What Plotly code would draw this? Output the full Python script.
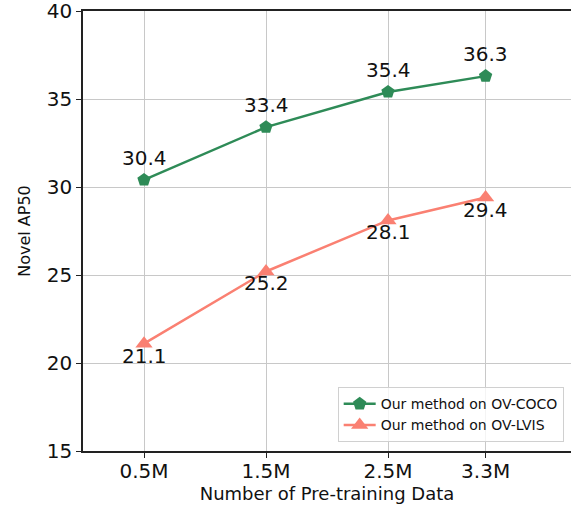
import plotly.graph_objects as go

x_vals = [0.5, 1.5, 2.5, 3.3]
x_labels = ["0.5M", "1.5M", "2.5M", "3.3M"]
coco = [30.4, 33.4, 35.4, 36.3]
lvis = [21.1, 25.2, 28.1, 29.4]
y_ticks = [15, 20, 25, 30, 35, 40]

GREEN = "#2e8b57"
SALMON = "#fa8072"
FONT = "DejaVu Sans"

fig = go.Figure()
fig.add_trace(go.Scatter(
    x=x_vals, y=coco, mode="lines+markers", name="Our method on OV-COCO",
    line=dict(color=GREEN, width=2.5),
    marker=dict(symbol="pentagon", size=14, color=GREEN),
))
fig.add_trace(go.Scatter(
    x=x_vals, y=lvis, mode="lines+markers", name="Our method on OV-LVIS",
    line=dict(color=SALMON, width=2.5),
    marker=dict(symbol="triangle-up", size=15, color=SALMON),
))

for xv, yv in zip(x_vals, coco):
    fig.add_annotation(x=xv, y=yv, text=f"{yv}", showarrow=False, yshift=22,
                       font=dict(family=FONT, size=20, color="#111"))
for xv, yv in zip(x_vals, lvis):
    fig.add_annotation(x=xv, y=yv, text=f"{yv}", showarrow=False, yshift=-12,
                       font=dict(family=FONT, size=20, color="#111"))

fig.update_layout(
    width=571, height=511,
    margin=dict(l=83, r=0, t=11, b=60),
    paper_bgcolor="white", plot_bgcolor="white",
    font=dict(family=FONT, color="#111"),
    showlegend=True,
    legend=dict(
        x=0.985, y=0.02, xanchor="right", yanchor="bottom",
        bgcolor="rgba(255,255,255,0.8)", bordercolor="#d0d0d0", borderwidth=1,
        font=dict(family=FONT, size=14, color="#111"),
        tracegroupgap=0, itemwidth=32,
    ),
    xaxis=dict(
        range=[0, 4.0], tickvals=x_vals, ticktext=x_labels,
        showgrid=True, gridcolor="#c8c8c8", gridwidth=1.2,
        showline=True, linecolor="#222", linewidth=1.5, mirror=True,
        ticks="outside", ticklen=5, tickcolor="#222",
        tickfont=dict(family=FONT, size=20, color="#111"),
        ticklabelstandoff=-4,
        title=dict(text="Number of Pre-training Data", font=dict(family=FONT, size=18, color="#111"), standoff=2),
        zeroline=False, automargin=False, ticklabeloverflow="allow",
    ),
    yaxis=dict(
        range=[15, 40], tickvals=y_ticks,
        showgrid=True, gridcolor="#c8c8c8", gridwidth=1.2,
        showline=True, linecolor="#222", linewidth=1.5,
        ticks="outside", ticklen=5, tickcolor="#222",
        tickfont=dict(family=FONT, size=20, color="#111"),
        title=dict(text="Novel AP50", font=dict(family=FONT, size=16, color="#111"), standoff=12),
        zeroline=False, automargin=False, ticklabeloverflow="allow",
    ),
)

fig.write_html("out.html", config={"displayModeBar": False},
               post_script="document.body.style.margin='0';")
